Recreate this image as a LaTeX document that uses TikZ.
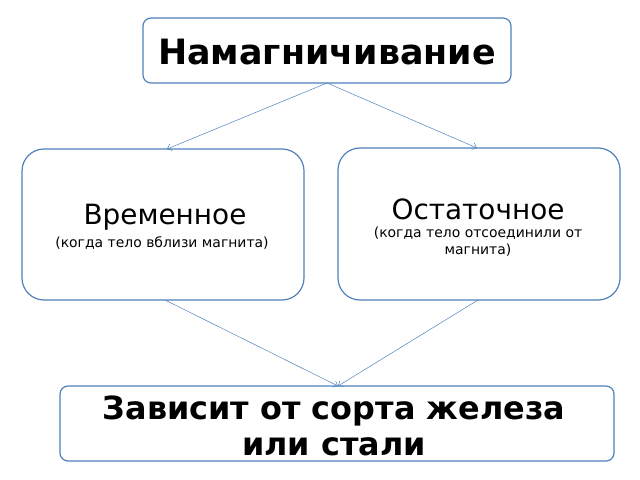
\documentclass[tikz,border=0pt]{standalone}
\usepackage{fontspec}
\setmainfont{DejaVu Sans}
\usetikzlibrary{arrows.meta}
\definecolor{edgeblue}{RGB}{79,129,189}

\begin{document}
\begin{tikzpicture}[x=1bp, y=-1bp,
    box/.style={draw=edgeblue, line width=1.2pt, fill=white, rounded corners=8bp},
    bigbox/.style={box, rounded corners=22bp},
    link/.style={draw=edgeblue, line width=0.5pt, -{Straight Barb[length=4bp,width=7bp]}}]
  \useasboundingbox (0,0) rectangle (640,480);

  % Boxes
  \draw[box] (143,18) rectangle (511,83);
  \node[font=\fontsize{35}{40}\selectfont\bfseries] (top) at (327,52) {Намагничивание};
  \coordinate (topb) at (327,83);

  \draw[bigbox] (22,149) rectangle (304,300);
  \node[font=\fontsize{28}{32}\selectfont] (temp) at (165,217) {Временное};
  \node[font=\fontsize{14}{16}\selectfont] (tempsub) at (162,243) {(когда тело вблизи магнита)};
  \coordinate (tempt) at (167,149);
  \coordinate (tempb) at (165,300);

  \draw[bigbox] (338,148) rectangle (620,300);
  \node[font=\fontsize{28}{32}\selectfont] (rest) at (478,209) {Остаточное};
  \node[align=center, font=\fontsize{14}{17}\selectfont] (restsub) at (478,242) {(когда тело отсоединили от\\ магнита)};
  \coordinate (restt) at (477,148);
  \coordinate (restb) at (478,300);

  \draw[box] (60,386) rectangle (614,461);
  \node[align=center, font=\fontsize{32}{36}\selectfont\bfseries] (dep) at (334,426) {Зависит от сорта железа\\ или стали};
  \coordinate (dept) at (338,386);

  % Connectors
  \draw[link] (topb) -- (tempt);
  \draw[link] (topb) -- (restt);
  \draw[link] (tempb) -- (dept);
  \draw[link] (restb) -- (dept);
\end{tikzpicture}
\end{document}
